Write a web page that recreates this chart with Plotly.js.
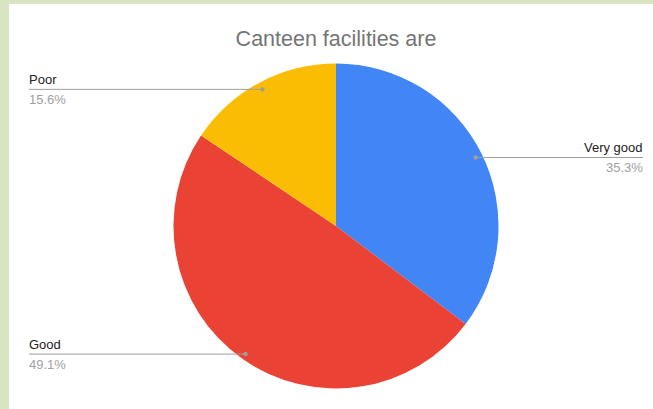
<!DOCTYPE html>
<html>
<head>
<meta charset="utf-8">
<script src="https://cdn.plot.ly/plotly-3.0.1.min.js"></script>
<style>html,body{margin:0;padding:0;background:#fff;}#chart{width:653px;height:409px;}</style>
</head>
<body>
<div id="chart"></div>
<script>
const categories = ["Very good", "Good", "Poor"];
const values = [35.3, 49.1, 15.6];
const sliceColors = ["#4285F4", "#EA4335", "#FBBC04"];
const chartTitle = "Canteen facilities are";

const W = 653, H = 409;
const cx = 336, cy = 226, r = 162.5;
const total = values.reduce((a, b) => a + b, 0);
const FONT = "Arial, 'Liberation Sans', sans-serif";

// label anchor placement (left or right side) and text x
const labelSide = { "Very good": "right", "Good": "left", "Poor": "left" };
const leftX = 29, rightX = 643;

const shapes = [
  { type: "rect", xref: "paper", yref: "paper", x0: 0, x1: 1, y0: 0, y1: 1, fillcolor: "#d9e5c2", line: { width: 0 }, layer: "below" },
  { type: "rect", xref: "paper", yref: "paper", x0: 9 / W, x1: 1, y0: 0, y1: 1 - 4 / H, fillcolor: "#ffffff", line: { width: 0 }, layer: "below" }
];
const annotations = [];

let cum = 0;
values.forEach((v, i) => {
  const mid = (cum + v / 2) / total * 2 * Math.PI;
  cum += v;
  const px = cx + 0.96 * r * Math.sin(mid);
  const py = cy + 1 - 0.96 * r * Math.cos(mid);
  const side = labelSide[categories[i]];
  const tx = side === "right" ? rightX : leftX;
  const textX = side === "right" ? tx + 2 : tx - 2;
  shapes.push({ type: "line", xref: "paper", yref: "paper", x0: px / W, x1: tx / W, y0: 1 - py / H, y1: 1 - py / H, line: { color: "#9e9e9e", width: 1 }, layer: "above" });
  shapes.push({ type: "circle", xref: "paper", yref: "paper", x0: (px - 2.2) / W, x1: (px + 2.2) / W, y0: 1 - (py + 2.2) / H, y1: 1 - (py - 2.2) / H, fillcolor: "#9e9e9e", line: { width: 0 }, layer: "above" });
  const xanchor = side === "right" ? "right" : "left";
  annotations.push({ xref: "paper", yref: "paper", x: textX / W, y: 1 - (py - 0.5) / H, xanchor: xanchor, yanchor: "bottom", text: categories[i], showarrow: false, font: { family: FONT, size: 13, color: "#222222" } });
  annotations.push({ xref: "paper", yref: "paper", x: textX / W, y: 1 - (py + 0.5) / H, xanchor: xanchor, yanchor: "top", text: v.toFixed(1) + "%", showarrow: false, font: { family: FONT, size: 13, color: "#a0a0a0" } });
});

const data = [{
  type: "pie",
  labels: categories,
  values: values,
  sort: false,
  direction: "clockwise",
  rotation: 0,
  marker: { colors: sliceColors, line: { width: 0 } },
  textinfo: "none",
  hoverinfo: "label+percent",
  domain: { x: [(cx - r) / W, (cx + r) / W], y: [1 - (cy + r) / H, 1 - (cy - r) / H] },
  showlegend: false
}];

const layout = {
  width: W, height: H,
  margin: { l: 0, r: 0, t: 0, b: 0 },
  paper_bgcolor: "#ffffff",
  showlegend: false,
  title: { text: chartTitle, x: 336 / W, xanchor: "center", y: 1 - 38 / H, yanchor: "middle", font: { family: FONT, size: 21.5, color: "#757575" } },
  shapes: shapes,
  annotations: annotations
};

Plotly.newPlot("chart", data, layout, { displayModeBar: false, staticPlot: true });
</script>
</body>
</html>
